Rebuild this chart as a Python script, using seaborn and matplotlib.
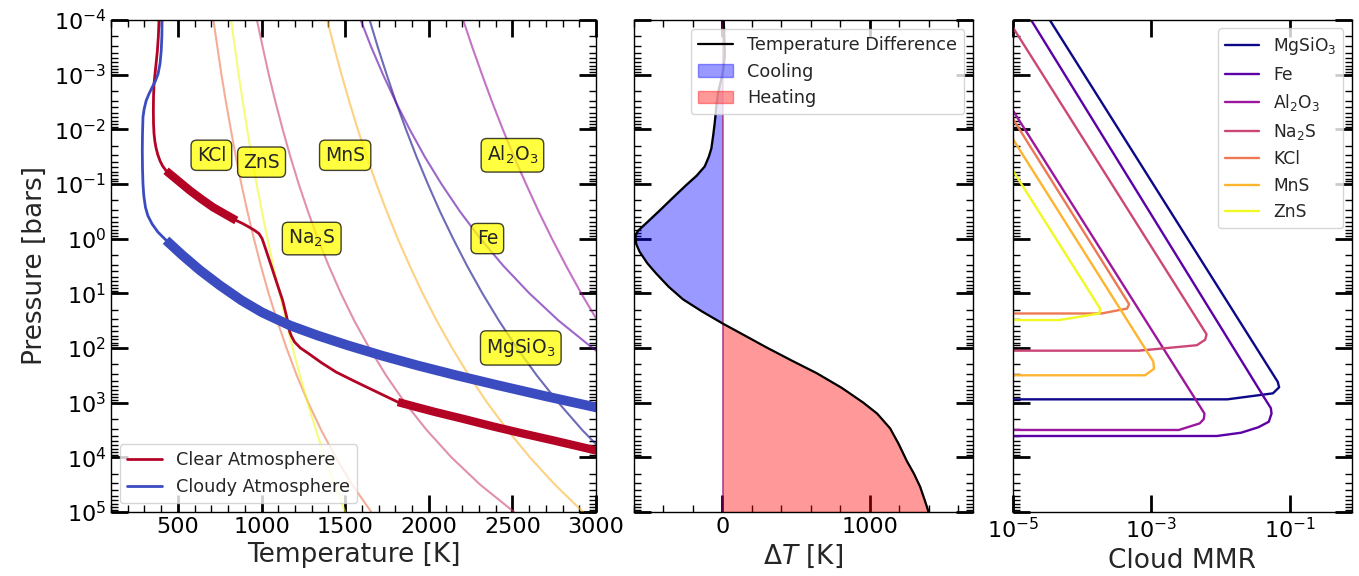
import numpy as np
import matplotlib
matplotlib.use("Agg")
import matplotlib.pyplot as plt
import seaborn as sns
from matplotlib.ticker import (MultipleLocator, LogLocator, NullLocator,
                               NullFormatter, FixedLocator)

sns.set_theme(style="ticks", context="notebook")
plt.rcParams["font.family"] = ["DejaVu Sans"]
plt.rcParams["mathtext.fontset"] = "dejavusans"

# ---------------------------------------------------------------------------
# Temperature-pressure profiles (log10 P [bar], T [K])
clear_logp = [-4.0, -3.7, -3.43, -3.1, -2.83, -2.6, -2.34, -2.1, -1.92, -1.78,
              -1.66, -1.54, -1.42, -1.33, -1.24, -1.06, -0.88, -0.72, -0.57,
              -0.45, -0.33, -0.27, -0.21, -0.15, -0.09, 0.0, 0.16, 0.5, 0.8,
              1.13, 1.43, 1.62, 1.7, 1.78, 1.89, 2.0, 2.10, 2.27, 2.44, 2.6,
              2.77, 2.88, 2.99, 3.08, 3.17, 3.3, 3.44, 3.57, 3.69, 3.87, 4.1]
clear_temp = [387, 383, 377, 366, 357, 354, 353, 354, 357, 362,
              369, 379, 393, 408, 429, 500, 571, 641, 711,
              780, 849, 890, 925, 958, 985, 1003, 1021, 1058, 1090,
              1126, 1150, 1163, 1168, 1178, 1197, 1232, 1280, 1358, 1445, 1550,
              1665, 1740, 1815, 1925, 2036, 2210, 2390, 2570, 2743, 2994, 3315]
clear_convective = [(-1.24, -0.33), (2.99, 4.1)]

cloudy_logp = [-4.0, -3.7, -3.43, -3.2, -3.01, -2.88, -2.76, -2.64, -2.52,
               -2.37, -2.22, -1.9, -1.61, -1.3, -1.0, -0.78, -0.57, -0.42,
               -0.27, -0.12, 0.03, 0.3, 0.58, 0.85, 1.13, 1.35, 1.59, 1.77,
               1.95, 2.14, 2.32, 2.5, 2.68, 2.88, 3.08, 3.3]
cloudy_temp = [405, 404, 400, 393, 381, 365, 345, 326, 310,
               298, 291, 288, 287, 288, 291, 296, 306, 320,
               345, 380, 429, 525, 632, 748, 880, 1003, 1171, 1333,
               1513, 1719, 1932, 2164, 2410, 2694, 2990, 3327]
cloudy_convective = [(0.03, 3.3)]

# Condensation curves, sampled every half decade in pressure
cond_logp = [-4.0, -3.5, -3.0, -2.5, -2.0, -1.5, -1.0, -0.5, 0.0, 0.5,
             1.0, 1.5, 2.0, 2.5, 3.0, 3.5, 4.0, 4.5, 5.0]
nan = np.nan
cond_mgsio3 = [1646, 1695, 1748, 1803, 1863, 1926, 1994, 2066, 2145, 2229,
               2320, 2419, 2527, 2645, 2775, 2917, 3076, nan, nan]
cond_fe = [1592, 1656, 1726, 1802, 1885, 1975, 2075, 2185, 2308, 2446,
           2601, 2776, 2978, 3210, nan, nan, nan, nan, nan]
cond_al2o3 = [2205, 2260, 2318, 2378, 2442, 2509, 2581, 2656, 2736, 2821,
              2911, 3008, 3110, nan, nan, nan, nan, nan, nan]
cond_na2s = [972, 1007, 1043, 1083, 1126, 1172, 1222, 1277, 1336, 1402,
             1474, 1554, 1644, 1744, 1857, 1987, 2135, 2307, 2510]
cond_kcl = [712, 736, 760, 787, 816, 846, 879, 915, 954, 996,
            1042, 1093, 1149, 1210, 1279, 1356, 1443, 1542, 1656]
cond_mns = [1392, 1434, 1478, 1525, 1575, 1629, 1686, 1748, 1814, 1886,
            1963, 2047, 2139, 2239, 2349, 2470, 2604, 2754, 2922]
cond_zns = [818, 840, 863, 888, 914, 941, 970, 1002, 1035, 1070,
            1108, 1145, 1186, 1229, 1275, 1325, 1378, 1437, 1500]

species = ["MgSiO$_3$", "Fe", "Al$_2$O$_3$", "Na$_2$S", "KCl", "MnS", "ZnS"]
cond_curves = [cond_mgsio3, cond_fe, cond_al2o3, cond_na2s, cond_kcl,
               cond_mns, cond_zns]

# Species name tags (T [K], P [bar])
tag_text = ["KCl", "ZnS", "MnS", "Al$_2$O$_3$", "Na$_2$S", "Fe", "MgSiO$_3$"]
tag_temp = [700, 1000, 1500, 2500, 1300, 2350, 2550]
tag_pres = [0.03, 0.04, 0.03, 0.03, 1.0, 1.0, 100.0]

# Cloudy minus clear temperature difference
dT_logp = [-4.0, -3.6, -3.34, -3.15, -3.0, -2.8, -2.66, -2.4, -2.12, -1.9,
           -1.65, -1.5, -1.32, -1.15, -0.98, -0.75, -0.51, -0.3, -0.14,
           -0.05, 0.1, 0.24, 0.45, 0.64, 0.88, 1.11, 1.33, 1.55, 1.77, 1.99,
           2.23, 2.46, 2.73, 3.0, 3.2, 3.47, 3.75, 4.07, 4.3, 4.54, 4.8, 5.0]
dT_vals = [9, 14, 16, 8, 0, -18, -30, -42, -52, -62,
           -75, -92, -120, -175, -245, -335, -427, -510, -574,
           -590, -585, -562, -510, -449, -365, -268, -140, 0, 150, 299,
           470, 639, 810, 956, 1050, 1138, 1195, 1252, 1300, 1342, 1375, 1399]

# Cloud mass mixing ratio profiles (log10 P, log10 MMR)
mmr_logp = {
    "MgSiO$_3$": [-4.0, 2.62, 2.72, 2.83, 2.94, 2.94],
    "Fe": [-4.0, 2.9, 3.1, 3.2, 3.35, 3.45, 3.55, 3.61, 3.61],
    "Al$_2$O$_3$": [-4.0, 3.2, 3.3, 3.38, 3.5, 3.5],
    "Na$_2$S": [-4.0, 1.75, 1.85, 1.95, 2.05, 2.05],
    "KCl": [-4.0, 1.2, 1.28, 1.37, 1.37],
    "MnS": [-4.0, 2.25, 2.38, 2.5, 2.5],
    "ZnS": [-4.0, 1.28, 1.37, 1.49, 1.49],
}
mmr_logq = {
    "MgSiO$_3$": [-4.47, -1.17, -1.15, -1.24, -1.90, -10],
    "Fe": [-4.74, -1.37, -1.27, -1.26, -1.30, -1.45, -1.70, -2.05, -10],
    "Al$_2$O$_3$": [-5.83, -2.23, -2.24, -2.30, -2.60, -10],
    "Na$_2$S": [-5.07, -2.20, -2.22, -2.34, -3.18, -10],
    "KCl": [-5.90, -3.32, -3.35, -3.72, -10],
    "MnS": [-6.09, -2.97, -2.96, -3.09, -10],
    "ZnS": [-6.38, -3.74, -3.75, -4.33, -10],
}

# ---------------------------------------------------------------------------
species_colors = [plt.get_cmap("plasma")(v) for v in np.linspace(0, 1, len(species))]
clear_color = "#b40426"
cloudy_color = "#3b4cc0"

fig = plt.figure(figsize=(13.59, 5.76), dpi=100)
bottom, height = 0.1111, 0.8545
axL = fig.add_axes([0.0817, bottom, 0.3569, height])
axM = fig.add_axes([0.4665, bottom, 0.2494, height], sharey=axL)
axR = fig.add_axes([0.7454, bottom, 0.2494, height], sharey=axL)

for ax in (axL, axM, axR):
    ax.set_yscale("log")
axR.set_xscale("log")

# --- left: T-P profiles with condensation curves
cp = 10.0 ** np.array(cond_logp)
for name, temps, col in zip(species, cond_curves, species_colors):
    t = np.array(temps, dtype=float)
    ok = ~np.isnan(t)
    sns.lineplot(x=t[ok], y=cp[ok], sort=False, estimator=None, color=col,
                 lw=1.5, alpha=0.6, ax=axL)


def draw_profile(ax, logp, temp, zones, color, lw_thin, lw_thick, label):
    lp = np.array(logp)
    t = np.array(temp, dtype=float)
    sns.lineplot(x=t, y=10.0 ** lp, sort=False, estimator=None, color=color,
                 lw=lw_thin, ax=ax, label=label)
    for lo, hi in zones:
        m = (lp >= lo) & (lp <= hi)
        sns.lineplot(x=t[m], y=10.0 ** lp[m], sort=False, estimator=None,
                     color=color, lw=lw_thick, ax=ax, solid_capstyle="butt")


draw_profile(axL, clear_logp, clear_temp, clear_convective, clear_color,
             2.0, 6.0, "Clear Atmosphere")
draw_profile(axL, cloudy_logp, cloudy_temp, cloudy_convective, cloudy_color,
             2.0, 7.0, "Cloudy Atmosphere")

for txt, tx, ty in zip(tag_text, tag_temp, tag_pres):
    axL.text(tx, ty, txt, ha="center", va="center", fontsize=13.5,
             bbox=dict(boxstyle="round,pad=0.3", facecolor="yellow",
                       edgecolor="black", alpha=0.75))

axL.set_xlim(100, 3000)
axL.xaxis.set_major_locator(MultipleLocator(500))
axL.xaxis.set_minor_locator(MultipleLocator(100))
axL.set_xlabel("Temperature [K]", fontsize=19)
axL.set_ylabel("Pressure [bars]", fontsize=19)
axL.legend(loc="lower left", fontsize=12.7)

# --- middle: temperature difference
dp = 10.0 ** np.array(dT_logp)
dT = np.array(dT_vals, dtype=float)
sns.lineplot(x=dT, y=dp, sort=False, estimator=None, color="black", lw=1.6,
             ax=axM, label="Temperature Difference")
axM.fill_betweenx(dp, 0, np.minimum(dT, 0), color="blue", alpha=0.4,
                  label="Cooling")
axM.fill_betweenx(dp, 0, np.maximum(dT, 0), color="red", alpha=0.4,
                  label="Heating")
axM.set_xlim(-600, 1700)
axM.xaxis.set_major_locator(MultipleLocator(1000))
axM.xaxis.set_minor_locator(MultipleLocator(200))
axM.set_xlabel(r"$\Delta T$ [K]", fontsize=19)
axM.legend(loc="upper right", fontsize=12.7)

# --- right: cloud mass mixing ratios
for name, col in zip(species, species_colors):
    sns.lineplot(x=10.0 ** np.array(mmr_logq[name]),
                 y=10.0 ** np.array(mmr_logp[name]), sort=False,
                 estimator=None, color=col, lw=1.7, ax=axR, label=name)
axR.set_xlim(1e-5, 0.8)
axR.xaxis.set_major_locator(FixedLocator([1e-5, 1e-3, 1e-1]))
axR.xaxis.set_minor_locator(NullLocator())
axR.set_xlabel("Cloud MMR", fontsize=19)
axR.legend(loc="upper right", fontsize=12.3)

for ax in (axL, axM, axR):
    ax.yaxis.set_major_locator(LogLocator(base=10, numticks=20))
    ax.yaxis.set_minor_locator(LogLocator(base=10, subs=np.arange(2, 10), numticks=20))
    ax.yaxis.set_minor_formatter(NullFormatter())
    ax.tick_params(which="both", direction="in", top=True, right=True,
                   colors="black")
    ax.tick_params(which="major", length=12, width=2, labelsize=16)
    ax.tick_params(which="minor", length=5, width=1)
    for s in ax.spines.values():
        s.set_color("black")
        s.set_linewidth(1.0)
axM.tick_params(labelleft=False)
axR.tick_params(labelleft=False)
axM.set_ylabel("")
axR.set_ylabel("")
axL.set_ylim(1e5, 1e-4)

fig.savefig("out.png", dpi=100)
